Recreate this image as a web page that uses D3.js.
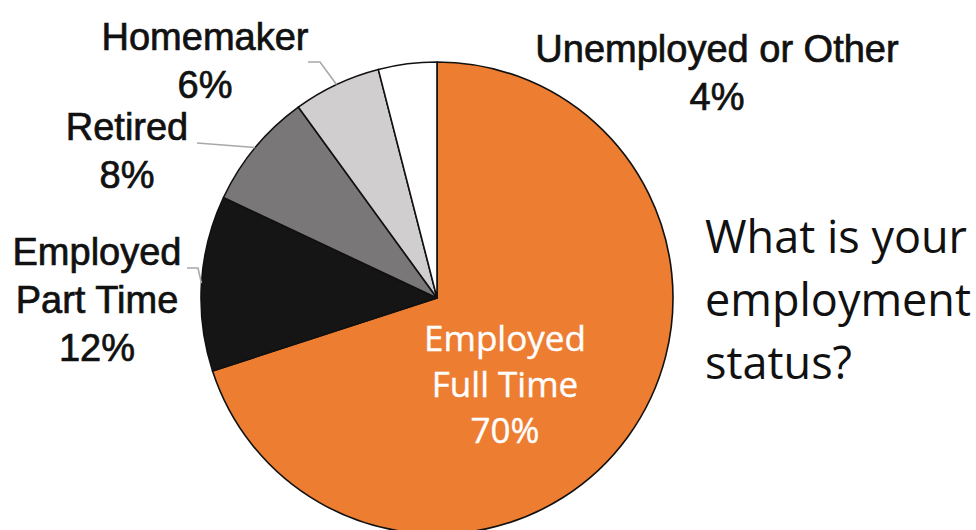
<!DOCTYPE html>
<html>
<head>
<meta charset="utf-8">
<script src="https://cdn.jsdelivr.net/npm/d3@7/dist/d3.min.js"></script>
<style>
  html, body { margin: 0; padding: 0; background: #fff; }
  svg { display: block; }
</style>
</head>
<body>
<svg id="chart" width="976" height="530"></svg>
<script>
// Survey answers: "What is your employment status?"
const categories = ["Employed Full Time", "Employed Part Time", "Retired", "Homemaker", "Unemployed or Other"];
const shares = [70, 12, 8, 6, 4];
const sliceColors = ["#ED7D31", "#151515", "#797777", "#D0CECE", "#FFFFFF"];
const question = ["What is your", "employment", "status?"];

// Label text split into lines, in category order
const labelLines = [
  ["Employed", "Full Time"],
  ["Employed", "Part Time"],
  ["Retired"],
  ["Homemaker"],
  ["Unemployed or Other"]
];

const width = 976, height = 530;
const cx = 437, cy = 298, radius = 236;

// Placement of each category label (x centre, first baseline, leader elbow)
const labelLayout = [
  { x: 505, y: 351, inside: true },
  { x: 97, y: 265, elbow: [[187, 268], [198, 268]] },
  { x: 127, y: 140, elbow: [[197, 143]] },
  { x: 205, y: 50, elbow: [[308, 62], [320, 62]] },
  { x: 717, y: 62, inside: false }
];

const svg = d3.select("#chart");
const g = svg.append("g").attr("transform", `translate(${cx},${cy})`);

const pie = d3.pie().sort(null).value(d => d.value);
const data = categories.map((c, i) => ({ name: c, value: shares[i], color: sliceColors[i], i }));
const arcs = pie(data);

const arc = d3.arc().innerRadius(0).outerRadius(radius);

g.selectAll("path.slice")
  .data(arcs)
  .join("path")
  .attr("class", "slice")
  .attr("d", arc)
  .attr("fill", d => d.data.color)
  .attr("stroke", "#111")
  .attr("stroke-width", 1.6)
  .attr("stroke-linejoin", "round");

// Leader lines from the slice edge to its label
const edge = d3.arc().innerRadius(radius).outerRadius(radius);
arcs.forEach((a, i) => {
  const L = labelLayout[i];
  if (!L.elbow) return;
  const p = edge.centroid(a);
  const pts = L.elbow.map(([x, y]) => [x - cx, y - cy]).concat([p]);
  g.append("path")
    .attr("d", d3.line()(pts))
    .attr("fill", "none")
    .attr("stroke", "#a8a8a8")
    .attr("stroke-width", 1.6);
});

// Category labels
const lineGapOuter = 48;
const lineGapInner = 46;
arcs.forEach((a, i) => {
  const L = labelLayout[i];
  const lines = labelLines[i].concat([a.data.value + "%"]);
  const inside = !!L.inside;
  const t = svg.append("text")
    .attr("text-anchor", "middle")
    .attr("font-family", inside ? "'Open Sans', sans-serif" : "'Liberation Sans', Arial, sans-serif")
    .attr("font-size", inside ? 35 : 38)
    .attr("fill", inside ? "#ffffff" : "#111111")
    .attr("stroke", inside ? "#ffffff" : "#111111")
    .attr("stroke-width", inside ? 0.4 : 0.7);
  lines.forEach((s, k) => {
    t.append("tspan")
      .attr("x", L.x)
      .attr("y", L.y + k * (inside ? lineGapInner : lineGapOuter))
      .text(s);
  });
});

// Question text at the right
const q = svg.append("text")
  .attr("font-family", "'Open Sans', sans-serif")
  .attr("font-size", 45)
  .attr("fill", "#111");
question.forEach((s, k) => {
  q.append("tspan").attr("x", 705).attr("y", 253 + k * 63).text(s);
});
</script>
</body>
</html>
